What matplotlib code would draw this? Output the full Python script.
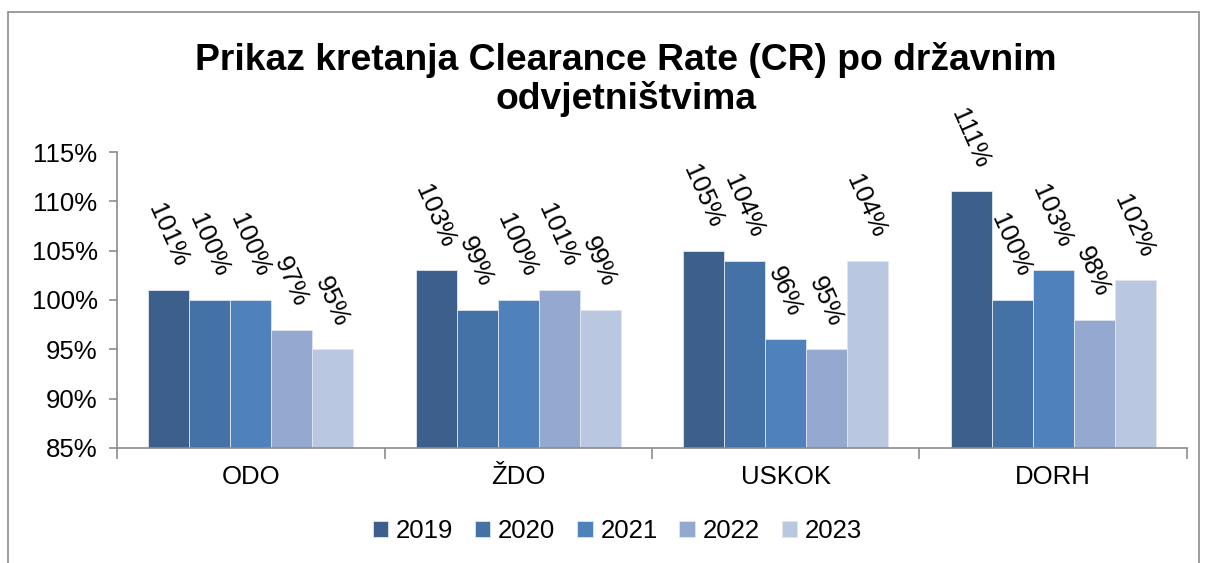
import matplotlib.pyplot as plt
from matplotlib.patches import Rectangle
from matplotlib.ticker import FixedLocator
import numpy as np

plt.rcParams["font.family"] = ["Liberation Sans", "DejaVu Sans"]

categories = ["ODO", "ŽDO", "USKOK", "DORH"]
years = ["2019", "2020", "2021", "2022", "2023"]
values = {
    "2019": [101, 103, 105, 111],
    "2020": [100, 99, 104, 100],
    "2021": [100, 100, 96, 103],
    "2022": [97, 101, 95, 98],
    "2023": [95, 99, 104, 102],
}
y_ticks = [85, 90, 95, 100, 105, 110, 115]
y_tick_labels = ["85%", "90%", "95%", "100%", "105%", "110%", "115%"]
colors = ["#3C5F8C", "#4472A6", "#4F81BD", "#95A9D0", "#BAC7E1"]

fig = plt.figure(figsize=(12.08, 5.63), dpi=100)
ax = fig.add_axes([0.0969, 0.2043, 0.8857, 0.5257])

# outer chart border
fig.patches.append(Rectangle((8 / 1208, -0.1), 1191 / 1208, 1.1 - 12 / 563,
                             transform=fig.transFigure, fill=False,
                             edgecolor="#8c8c8c", lw=1.2))

x = np.arange(len(categories))
width = 0.153
for i, yr in enumerate(years):
    pos = x + (i - 2) * width
    ax.bar(pos, np.array(values[yr]) - 85, width, bottom=85,
           color=colors[i], edgecolor="#dfe6f0", lw=0.6, label=yr)
    for xp, v in zip(pos, values[yr]):
        ax.annotate(f"{v}%", (xp, v), xytext=(-1, 14), textcoords="offset points",
                    rotation=-66, ha="center", va="bottom", fontsize=18.5)

ax.set_ylim(85, 115)
ax.set_xlim(-0.5, 3.5)
ax.set_yticks(y_ticks)
ax.set_yticklabels(y_tick_labels, fontsize=18.5)
ax.set_xticks(x)
ax.set_xticklabels(categories, fontsize=18.5)
ax.tick_params(axis="x", which="major", length=0, pad=12)
ax.xaxis.set_minor_locator(FixedLocator(np.arange(-0.5, 4, 1)))
ax.tick_params(axis="x", which="minor", length=8, color="#8c8c8c", width=1.2)
ax.tick_params(axis="y", length=6, color="#8c8c8c", width=1.2, pad=8)

for side in ["top", "right"]:
    ax.spines[side].set_visible(False)
for side in ["left", "bottom"]:
    ax.spines[side].set_color("#8c8c8c")
    ax.spines[side].set_linewidth(1.2)

fig.suptitle("Prikaz kretanja Clearance Rate (CR) po državnim\nodvjetništvima",
             x=0.518, y=0.925, fontsize=26.8, fontweight="bold", linespacing=1.1)

fig.legend(loc="center", bbox_to_anchor=(0.511, 0.057), ncol=5, frameon=False,
           fontsize=18.5, handlelength=0.6, handleheight=0.6, handletextpad=0.3,
           columnspacing=0.85)

fig.savefig("out.png", dpi=100)
